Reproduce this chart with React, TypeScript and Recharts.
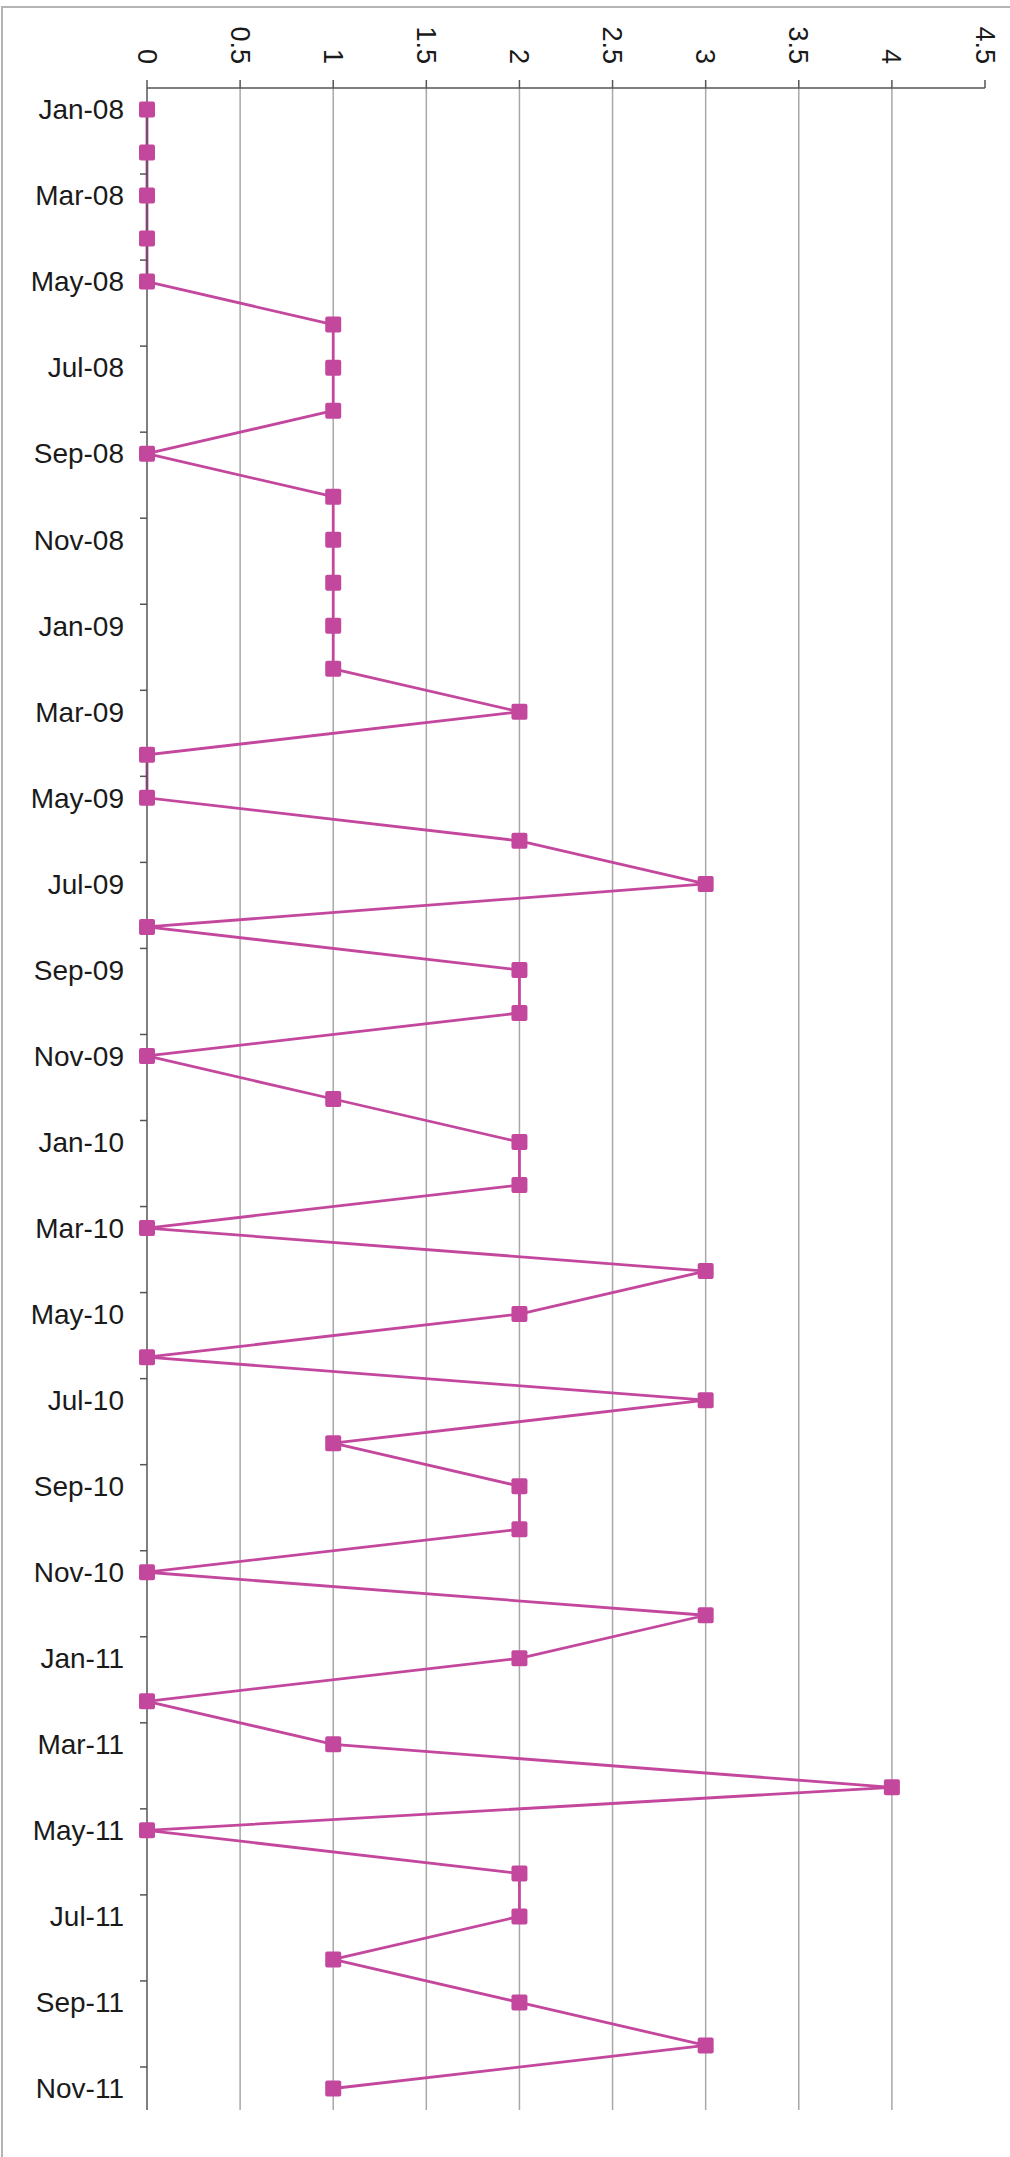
import React from 'react';
import { LineChart, Line, XAxis, YAxis, CartesianGrid } from 'recharts';

// monthly counts, Jan-08 .. Nov-11
const months = [
  'Jan-08', 'Feb-08', 'Mar-08', 'Apr-08', 'May-08', 'Jun-08', 'Jul-08', 'Aug-08', 'Sep-08', 'Oct-08', 'Nov-08', 'Dec-08',
  'Jan-09', 'Feb-09', 'Mar-09', 'Apr-09', 'May-09', 'Jun-09', 'Jul-09', 'Aug-09', 'Sep-09', 'Oct-09', 'Nov-09', 'Dec-09',
  'Jan-10', 'Feb-10', 'Mar-10', 'Apr-10', 'May-10', 'Jun-10', 'Jul-10', 'Aug-10', 'Sep-10', 'Oct-10', 'Nov-10', 'Dec-10',
  'Jan-11', 'Feb-11', 'Mar-11', 'Apr-11', 'May-11', 'Jun-11', 'Jul-11', 'Aug-11', 'Sep-11', 'Oct-11', 'Nov-11',
];

const counts = [
  0, 0, 0, 0, 0, 1, 1, 1, 0, 1, 1, 1,
  1, 1, 2, 0, 0, 2, 3, 0, 2, 2, 0, 1,
  2, 2, 0, 3, 2, 0, 3, 1, 2, 2, 0, 3,
  2, 0, 1, 4, 0, 2, 2, 1, 2, 3, 1,
];

const valueTicks = [0, 0.5, 1, 1.5, 2, 2.5, 3, 3.5, 4, 4.5];
const gridValues = [0.5, 1, 1.5, 2, 2.5, 3, 3.5, 4];

const data = months.map((m, i) => ({ idx: i, month: m, count: counts[i] }));

// labels on every other month, tick marks between month pairs
const monthTicks: number[] = [];
for (let i = 0; i < months.length; i += 2) {
  monthTicks.push(i);
  if (i + 1.5 < months.length) monthTicks.push(i + 1.5);
}

const PINK = '#C4479E';
const AXIS = '#555';
const FONT = '"Liberation Sans", Arial, sans-serif';

const MonthTick = (props: any) => {
  const { x, y, payload } = props;
  const v = payload.value;
  if (v % 1 !== 0) {
    return <line x1={x + 16} x2={x + 23} y1={y} y2={y} stroke={AXIS} strokeWidth={1.5} />;
  }
  return (
    <text x={x} y={y} dy="0.35em" textAnchor="end" fontSize={28} fill="#1a1a1a" fontFamily={FONT}>
      {months[v]}
    </text>
  );
};

const ValueTick = (props: any) => {
  const { x, y, payload } = props;
  return (
    <text
      x={x}
      y={y}
      dy="0.35em"
      textAnchor="end"
      fontSize={27}
      fill="#1a1a1a"
      fontFamily={FONT}
      transform={`rotate(90, ${x}, ${y})`}
    >
      {payload.value}
    </text>
  );
};

const SquareDot = (props: any) => {
  const { cx, cy, index } = props;
  return <rect key={`dot-${index}`} x={cx - 8} y={cy - 8} width={16} height={16} rx={2} fill={PINK} />;
};

export default function App() {
  return (
    <div style={{ position: 'absolute', left: 0, top: 0, width: 1010, height: 2157, background: '#fff' }}>
      <div
        style={{
          position: 'absolute',
          left: 1,
          top: 6,
          right: 0,
          bottom: 0,
          borderTop: '2px solid #b4b4b4',
          borderLeft: '2px solid #b4b4b4',
        }}
      />
      <LineChart
        width={1010}
        height={2157}
        data={data}
        layout="vertical"
        margin={{ top: 0, right: 25, bottom: 47, left: 0 }}
        style={{ position: 'absolute', left: 0, top: 0 }}
      >
        <CartesianGrid horizontal={false} verticalValues={gridValues} stroke="#a8a8a8" strokeWidth={1.5} />
        <XAxis
          type="number"
          orientation="top"
          domain={[0, 4.5]}
          ticks={valueTicks}
          interval={0}
          height={88}
          tickSize={8}
          tickMargin={16}
          axisLine={{ stroke: AXIS, strokeWidth: 1.5 }}
          tickLine={{ stroke: AXIS, strokeWidth: 1.5 }}
          tick={<ValueTick />}
        />
        <YAxis
          type="number"
          dataKey="idx"
          domain={[-0.5, 46.5]}
          ticks={monthTicks}
          interval={0}
          width={147}
          tickSize={7}
          tickMargin={16}
          axisLine={{ stroke: AXIS, strokeWidth: 1.5 }}
          tickLine={false}
          tick={<MonthTick />}
        />
        <Line
          type="linear"
          dataKey="count"
          stroke={PINK}
          strokeWidth={2.8}
          dot={SquareDot}
          activeDot={false}
          isAnimationActive={false}
        />
      </LineChart>
    </div>
  );
}
